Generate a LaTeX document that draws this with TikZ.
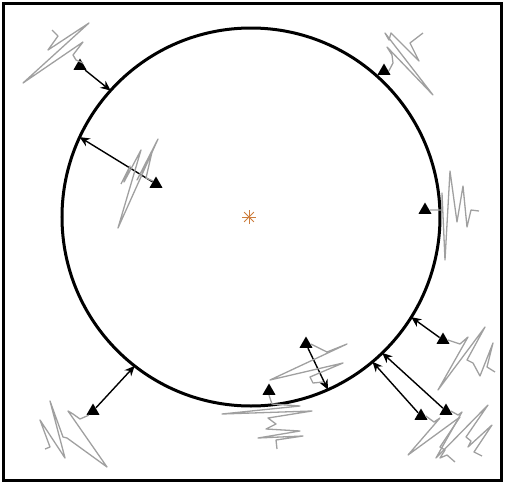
\documentclass[tikz,border=0pt]{standalone}
\usetikzlibrary{calc,arrows.meta,shapes.geometric}
\definecolor{epiorange}{RGB}{205,125,60}
\definecolor{tracegray}{RGB}{160,160,160}
\tikzset{
  frameline/.style={draw=black,line width=1.5pt},
  ring/.style={draw=black,circle,line width=1.5pt,minimum size=189pt,inner sep=0pt,outer sep=0pt},
  station/.style={regular polygon,regular polygon sides=3,fill=black,inner sep=0pt,minimum size=7.5pt},
  ray/.style={draw=black,line width=0.7pt,-{Stealth[length=5pt,width=4.5pt]}},
  trace/.style={draw=tracegray,line width=0.65pt,line join=round},
}
\newcommand{\epistar}[1]{%
  \foreach \a in {0,45,...,135}{%
    \draw[epiorange,line width=0.4pt] ($(#1)+(\a:7)$) -- ($(#1)+(\a+180:7)$);}}

\begin{document}
\begin{tikzpicture}[x=0.5pt,y=-0.5pt]
        \useasboundingbox (0,0) rectangle (505,483);
        \draw[frameline] (3,3) rectangle (502,480);
        \node[ring] (ring) at (251,217) {};
        \coordinate (epi) at (249,217);
        \epistar{epi}
        % stations
        \node[station] (sA) at (80,66) {};
        \node[station] (sB) at (384,71) {};
        \node[station] (sC) at (156,184) {};
        \node[station] (sD) at (425,210) {};
        \node[station] (sE) at (443,340) {};
        \node[station] (sF) at (421,416) {};
        \node[station] (sG) at (446,411) {};
        \node[station] (sH) at (306,344) {};
        \node[station] (sI) at (269,391) {};
        \node[station] (sJ) at (93,411) {};
        % rays to the ring
        \draw[ray] (sA) -- (ring.138.7);
        \draw[ray] (sC) -- (ring.155.9);
        \draw[ray] (sE) -- (ring.-32.1);
        \draw[ray] (sF) -- (ring.-50);
        \draw[ray] (sG) -- (ring.-46);
        \draw[ray] (sH) -- (ring.-66.2);
        \draw[ray] (sJ) -- (ring.-128.5);
        % seismograms
        \draw[trace] (sA.north east) -- (76,60) -- (73,55) -- (83,42) -- (23,83) -- (89,23)
          -- (48,50) -- (58,36) -- (52,30);
        \draw[trace] (sB.east) -- (393,63) -- (392,55) -- (387,47) -- (433,95) -- (385,33)
          -- (389,40) -- (391,33) -- (419,61) -- (410,43) -- (423,33);
        \draw[trace] (sC.north west) -- (146,178) -- (152,152) -- (137,180) -- (158,139)
          -- (118,228) -- (141,150) -- (124,182) -- (130,166) -- (121,184);
        \draw[trace] (sD.east) -- (442,210) -- (442,193) -- (445,260) -- (450,171) -- (457,222)
          -- (463,186) -- (467,227) -- (471,210) -- (479,211);
        \draw[trace] (sE.east) -- (460,344) -- (468,337) -- (438,390) -- (485,327) -- (467,360)
          -- (473,363) -- (480,376) -- (493,343) -- (487,367) -- (495,372);
        \draw[trace] (sF.east) -- (434,422) -- (440,418) -- (408,455) -- (460,417) -- (440,447)
          -- (445,450) -- (440,458) -- (447,455) -- (455,462);
        \draw[trace] (sG.east) -- (458,415) -- (462,412) -- (436,458) -- (488,405) -- (466,437)
          -- (471,441) -- (468,447) -- (492,425) -- (474,452) -- (482,456);
        \draw[trace] (sH.east) -- (327,352) -- (347,344) -- (270,380) -- (343,363) -- (310,377)
          -- (313,383) -- (323,382);
        \draw[trace] (sI.south) -- (272,404) -- (300,406) -- (222,414) -- (312,411) -- (268,418)
          -- (276,424) -- (266,429) -- (300,431) -- (258,438) -- (303,436) -- (276,440) -- (277,449);
        \draw[trace] (sJ.south west) -- (80,419) -- (73,414) -- (68,411) -- (107,467) -- (67,438)
          -- (63,437) -- (50,401) -- (65,458) -- (40,420) -- (50,447) -- (45,449);
      \end{tikzpicture}
\end{document}
